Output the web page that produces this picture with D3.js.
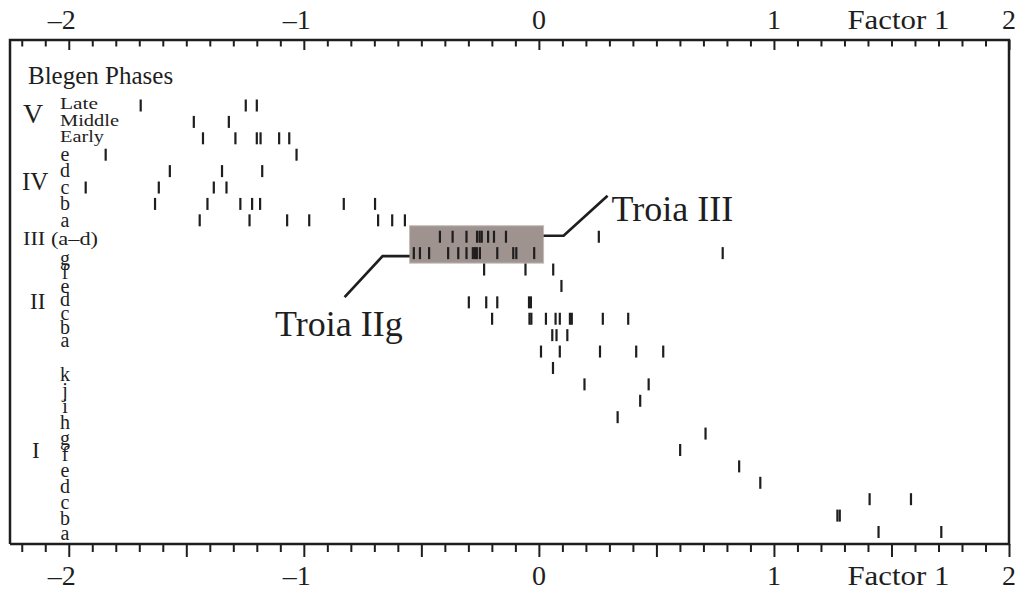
<!DOCTYPE html>
<html><head><meta charset="utf-8">
<script src="https://cdn.jsdelivr.net/npm/d3@7"></script>
<style>
html,body{margin:0;padding:0;background:#fff;}
svg{display:block;font-family:"Liberation Serif","Times New Roman",serif;}
</style></head><body>
<svg id="chart" width="1016" height="592"></svg>
<script>
// Factor 1 scores of the samples, one row per Blegen phase / sub-phase
const phaseNames = ["V", "IV", "III", "II", "I"];
const subPhasesV = ["Late", "Middle", "Early"];
const subPhasesIV = ["e", "d", "c", "b", "a"];
const subPhasesIII = ["(a–d)"];
const subPhasesII = ["g", "f", "e", "d", "c", "b", "a"];
const subPhasesI = ["k", "j", "i", "h", "g", "f", "e", "d", "c", "b", "a"];

const scoresV = [
  [-1.694, -1.247, -1.200],
  [-1.468, -1.319],
  [-1.429, -1.291, -1.200, -1.184, -1.105, -1.062]
];
const scoresIV = [
  [-1.843, -1.031],
  [-1.570, -1.348, -1.177],
  [-1.928, -1.617, -1.383, -1.329],
  [-1.633, -1.410, -1.270, -1.220, -1.186, -0.830, -0.697],
  [-1.443, -1.231, -1.071, -0.977, -0.684, -0.624, -0.570]
];
const scoresIII = [
  [-0.421, -0.367, -0.308, -0.263, -0.252, -0.243, -0.216, -0.191, -0.140, 0.255]
];
const scoresII = [
  [-0.532, -0.506, -0.467, -0.386, -0.343, -0.308, -0.281, -0.272, -0.264, -0.251, -0.177, -0.109, -0.096, -0.020, 0.782],
  [-0.233, -0.057, 0.061],
  [0.096],
  [-0.298, -0.224, -0.177, -0.042, -0.034],
  [-0.199, -0.040, -0.032, 0.030, 0.071, 0.089, 0.132, 0.140, 0.272, 0.380],
  [0.057, 0.075, 0.121],
  [0.009, 0.089, 0.260, 0.414, 0.529]
];
const scoresI = [
  [0.060],
  [0.194, 0.467],
  [0.431],
  [0.335],
  [0.709],
  [0.601],
  [0.852],
  [0.942],
  [1.407, 1.583],
  [1.270, 1.280],
  [1.445, 1.712]
];

const xTickLabels = [-2, -1, 0, 1, 2];
const axisTitle = "Factor 1";
const legendTitle = "Blegen Phases";
// Troia III / Troia IIg samples are highlighted together
const highlightRange = [-0.55, 0.02];
const highlightRows = ["III|(a–d)", "II|g"];
const calloutIII = "Troia III";
const calloutIIg = "Troia IIg";

// ---- assemble rows ----
const subPhases = [subPhasesV, subPhasesIV, subPhasesIII, subPhasesII, subPhasesI];
const scores = [scoresV, scoresIV, scoresIII, scoresII, scoresI];
const rows = [];
phaseNames.forEach((p, gi) => {
  subPhases[gi].forEach((s, si) => {
    rows.push({phase: p, sub: s, key: p + "|" + s, index: si, values: scores[gi][si]});
  });
});
const marks = rows.flatMap(r => r.values.map(v => ({key: r.key, v})));

// ---- scales ----
const plotLeft = 10, plotRight = 1009, plotTop = 40, plotBottom = 544;
const x = d3.scaleLinear().domain([-2.25, 2]).range([plotLeft, plotRight]);
const y = d3.scalePoint().domain(rows.map(r => r.key)).range([105.5, 532]);

const svg = d3.select("#chart");
const ink = "#1e1e1e";

// ---- highlight band ----
const yHiTop = y(highlightRows[0]) - 11;
const yHiBot = y(highlightRows[1]) + 10;
svg.append("rect")
  .attr("x", x(highlightRange[0])).attr("y", yHiTop)
  .attr("width", x(highlightRange[1]) - x(highlightRange[0]))
  .attr("height", yHiBot - yHiTop)
  .attr("fill", "#9f9390").attr("stroke", "#c4bbb8").attr("stroke-width", 1);

// ---- sample marks ----
svg.append("g").selectAll("rect").data(marks).join("rect")
  .attr("x", d => x(d.v) - 1.1)
  .attr("y", d => y(d.key) - 6)
  .attr("width", 2.2).attr("height", 12)
  .attr("fill", ink);

// ---- frame ----
svg.append("path")
  .attr("d", `M${plotLeft},${plotBottom}V${plotTop}H${plotRight}V${plotBottom}H${plotLeft}`)
  .attr("fill", "none").attr("stroke", ink).attr("stroke-width", 2.5);

// ---- axes ----
const tenths = d3.range(-22, 21).map(d => d / 10);
const isInt = v => Math.abs(v - Math.round(v)) < 1e-9;
const isHalf = v => Math.abs(v * 2 - Math.round(v * 2)) < 1e-9;

function styleAxis(g) {
  g.select(".domain").remove();
  g.selectAll(".tick line").attr("stroke", ink).attr("stroke-width", 2);
}
// top: ticks point inward, long at integers
svg.append("g").attr("transform", `translate(0,${plotTop})`)
  .call(d3.axisBottom(x).tickValues(tenths.filter(v => !isInt(v))).tickSize(6.5).tickFormat(""))
  .call(styleAxis);
svg.append("g").attr("transform", `translate(0,${plotTop})`)
  .call(d3.axisBottom(x).tickValues(tenths.filter(isInt)).tickSize(10).tickFormat(""))
  .call(styleAxis);
// bottom: ticks point outward, long at halves
svg.append("g").attr("transform", `translate(0,${plotBottom})`)
  .call(d3.axisBottom(x).tickValues(tenths.filter(v => !isHalf(v))).tickSize(8).tickFormat(""))
  .call(styleAxis);
svg.append("g").attr("transform", `translate(0,${plotBottom})`)
  .call(d3.axisBottom(x).tickValues(tenths.filter(isHalf)).tickSize(13).tickFormat(""))
  .call(styleAxis);

// tick labels (digit centred on the tick, minus hangs left)
const fmt = v => (v < 0 ? "–" : "") + Math.abs(v);
[29, 585].forEach(base => {
  svg.append("g").selectAll("text").data(xTickLabels).join("text")
    .attr("x", v => x(v) + 7).attr("y", base)
    .attr("text-anchor", "end")
    .attr("font-size", 28).attr("fill", ink)
    .text(fmt);
  svg.append("text")
    .attr("x", x(1.3) + 3).attr("y", base)
    .attr("font-size", 28).attr("fill", ink)
    .attr("textLength", 102).attr("lengthAdjust", "spacingAndGlyphs")
    .text(axisTitle);
});

// ---- phase labels ----
svg.append("text").attr("x", 28).attr("y", 84)
  .attr("font-size", 25).attr("fill", ink).text(legendTitle);

// per-phase label layout: numeral size/offset, sub-label leading/offset
const layout = {
  "V":  {numSize: 28, numDy: 1.5, numX: 23, lead: 16.5, dy: 4},
  "IV": {numSize: 25, numDy: 2,   numX: 22, lead: 16.5, dy: 6},
  "II": {numSize: 23, numDy: 7,   numX: 30, lead: 13.7, dy: 4},
  "I":  {numSize: 23, numDy: 7.7, numX: 32, lead: 15.9, dy: 11}
};
const wordWidths = {"Late": 38, "Middle": 59, "Early": 44};

phaseNames.forEach(p => {
  const prow = rows.filter(r => r.phase === p);
  const yc = (y(prow[0].key) + y(prow[prow.length - 1].key)) / 2;
  if (p === "III") {
    svg.append("text").attr("x", 23).attr("y", y(prow[0].key) + 8.7)
      .attr("font-size", 19).attr("fill", ink)
      .attr("textLength", 75).attr("lengthAdjust", "spacingAndGlyphs")
      .text(p + " " + prow[0].sub);
    return;
  }
  const L = layout[p];
  svg.append("text").attr("x", L.numX).attr("y", yc + L.numDy)
    .attr("font-size", L.numSize).attr("fill", ink).text(p);
  const n = prow.length;
  prow.forEach((r, i) => {
    const base = yc + L.dy + (i - (n - 1) / 2) * L.lead;
    const t = svg.append("text").attr("y", base).attr("fill", ink).text(r.sub);
    if (wordWidths[r.sub]) {
      t.attr("x", 60).attr("font-size", 16)
        .attr("textLength", wordWidths[r.sub]).attr("lengthAdjust", "spacingAndGlyphs");
    } else {
      t.attr("x", 65).attr("text-anchor", "middle").attr("font-size", 20);
    }
  });
});

// ---- callouts ----
const yIII = y(highlightRows[0]);
const yIIg = y(highlightRows[1]);
const bx0 = x(highlightRange[0]), bx1 = x(highlightRange[1]);
svg.append("polyline")
  .attr("points", [[bx1, yIII - 1], [bx1 + 20, yIII - 1], [bx1 + 64, yIII - 41]].join(" "))
  .attr("fill", "none").attr("stroke", ink).attr("stroke-width", 2.7);
svg.append("text").attr("x", bx1 + 68).attr("y", 221)
  .attr("font-size", 36).attr("fill", ink).text(calloutIII);

svg.append("polyline")
  .attr("points", [[bx0, yIIg + 3], [bx0 - 27, yIIg + 3], [bx0 - 65, yIIg + 44]].join(" "))
  .attr("fill", "none").attr("stroke", ink).attr("stroke-width", 2.7);
svg.append("text").attr("x", 275).attr("y", 336)
  .attr("font-size", 36).attr("fill", ink).text(calloutIIg);
</script>
</body></html>
